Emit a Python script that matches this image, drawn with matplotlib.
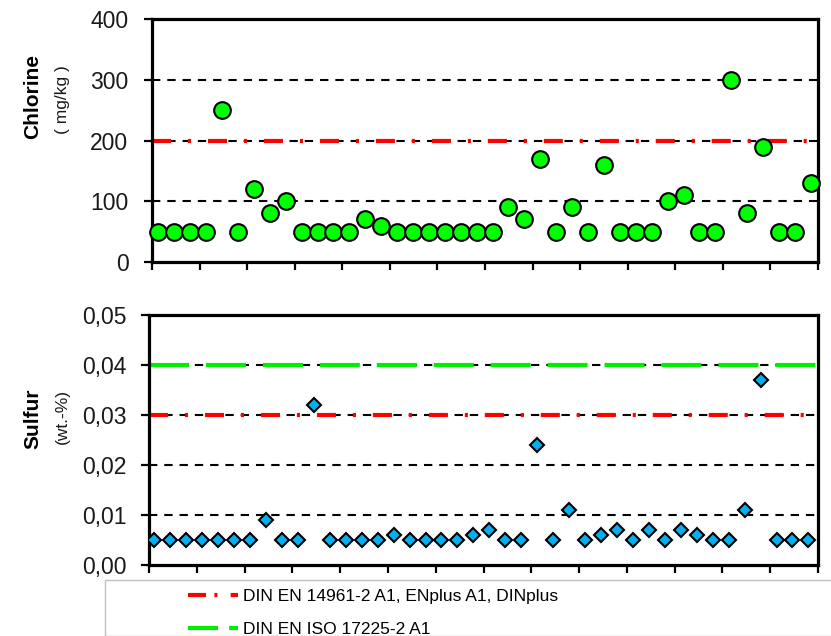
import matplotlib
matplotlib.use("Agg")
import matplotlib.pyplot as plt
from matplotlib.lines import Line2D
from matplotlib.patches import Rectangle
import numpy as np

plt.rcParams['font.family'] = ['Liberation Sans', 'DejaVu Sans']
plt.rcParams['lines.scale_dashes'] = False

# chlorine content per sample (mg/kg)
chlorine = [50, 50, 50, 50, 250, 50, 120, 80, 100, 50, 50, 50, 50, 70, 60, 50, 50, 50, 50, 50, 50,
            50, 90, 70, 170, 50, 90, 50, 160, 50, 50, 50, 100, 110, 50, 50, 300, 80, 190, 50, 50, 130]
# sulfur content per sample (wt.-%)
sulfur = [0.005, 0.005, 0.005, 0.005, 0.005, 0.005, 0.005, 0.009, 0.005, 0.005, 0.032, 0.005, 0.005, 0.005,
          0.005, 0.006, 0.005, 0.005, 0.005, 0.005, 0.006, 0.007, 0.005, 0.005, 0.024, 0.005, 0.011, 0.005,
          0.006, 0.007, 0.005, 0.007, 0.005, 0.007, 0.006, 0.005, 0.005, 0.011, 0.037, 0.005, 0.005, 0.005]

cl_ticks = [0, 100, 200, 300, 400]
cl_ticklabels = ["0", "100", "200", "300", "400"]
s_ticks = [0.0, 0.01, 0.02, 0.03, 0.04, 0.05]
s_ticklabels = ["0,00", "0,01", "0,02", "0,03", "0,04", "0,05"]

# limits
din_en_cl = 200      # DIN EN 14961-2 A1, ENplus A1, DINplus
din_en_s = 0.03
iso_s = 0.04         # DIN EN ISO 17225-2 A1

labels = ["DIN EN 14961-2 A1, ENplus A1, DINplus", "DIN EN ISO 17225-2 A1"]

W, H = 831, 636
fig = plt.figure(figsize=(W / 100, H / 100), dpi=100)

def px_axes(l, t, r, b):
    return fig.add_axes([l / W, 1 - b / H, (r - l) / W, (b - t) / H])

ax1 = px_axes(152, 19, 818, 262)
ax2 = px_axes(149, 315, 818, 565)

red_dash = (13.7, 12.2, 2.2, 12.2)
green_dash = (28.8, 12.2)
grid_dash = (6, 5)
tick_col = '#1a1a1a'

x = np.arange(len(chlorine))

def style(ax, ticks, ticklabels, xlim, pad):
    ax.set_xlim(*xlim)
    ax.set_ylim(ticks[0], ticks[-1])
    ax.set_yticks(ticks)
    ax.set_yticklabels(ticklabels)
    ax.set_xticks(np.linspace(xlim[0], xlim[1], 15))
    ax.set_xticklabels([])
    for s in ax.spines.values():
        s.set_linewidth(2.3)
    ax.tick_params(axis='both', direction='out', length=5.5, width=1.6, colors='black')
    ax.tick_params(axis='y', labelsize=16.5, labelcolor=tick_col, pad=pad)
    for t in ticks[1:-1]:
        ax.axhline(t, color='black', lw=1.5, dashes=grid_dash, zorder=1)

style(ax1, cl_ticks, cl_ticklabels, (-0.4, 41.45), 11.5)
style(ax2, s_ticks, s_ticklabels, (-0.33, 41.6), 10.5)

ax1.axhline(din_en_cl, color='#ff0000', lw=3, dashes=red_dash, zorder=2)
ax1.plot(x, chlorine, 'o', ms=12, mfc='#00ff00', mec='black', mew=1.5, zorder=3, clip_on=False)

ax2.axhline(iso_s, color='#00ee00', lw=3, dashes=green_dash, zorder=2)
ax2.axhline(din_en_s, color='#ff0000', lw=3, dashes=red_dash, zorder=2)
ax2.plot(np.arange(len(sulfur)), sulfur, 'D', ms=7.2, mfc='#00b0f0', mec='black', mew=1.5, zorder=3)

fig.text(33 / W, 1 - 96.5 / H, "Chlorine", rotation=90, fontsize=15, fontweight='bold', ha='center', va='center')
fig.text(62 / W, 1 - 100 / H, "( mg/kg )", rotation=90, fontsize=12.5, ha='center', va='center', color=tick_col)
fig.text(33 / W, 1 - 419 / H, "Sulfur", rotation=90, fontsize=15, fontweight='bold', ha='center', va='center')
fig.text(62 / W, 1 - 416 / H, "(wt.-%)", rotation=90, fontsize=12.5, ha='center', va='center', color=tick_col)

# legend frame
fig.patches.append(Rectangle((105 / W, 0), (W - 100) / W, 1 - 580 / H, transform=fig.transFigure,
                             fill=False, edgecolor='#bfbfbf', lw=1))
handles = [Line2D([], [], color='#ff0000', lw=3, dashes=(13, 6, 2.2, 9.5)),
           Line2D([], [], color='#00ee00', lw=3, dashes=(21.6, 8))]
fig.legend(handles, labels, loc='upper left', bbox_to_anchor=(176 / W, 1 - 577 / H), frameon=False,
           prop={'size': 12.5}, handlelength=2.88, handletextpad=0.29, labelspacing=1.0, borderpad=0.2)

fig.savefig("out.png", dpi=100)
